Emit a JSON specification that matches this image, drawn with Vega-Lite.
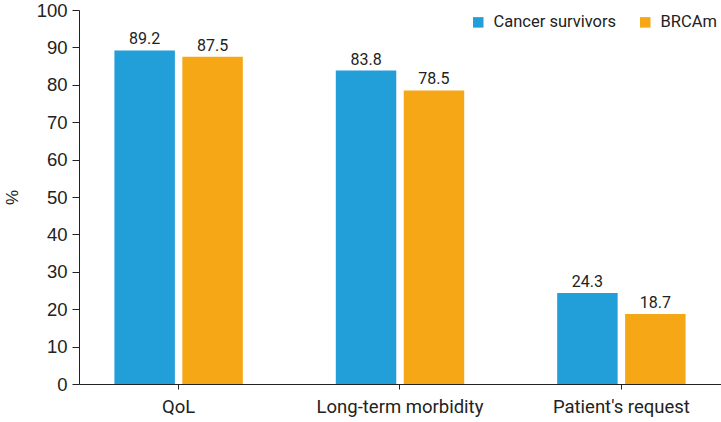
{
  "$schema": "https://vega.github.io/schema/vega-lite/v6.json",
  "width": 642,
  "height": 374,
  "autosize": "none",
  "padding": {"left": 79, "top": 10, "right": 0, "bottom": 38},
  "background": "white",
  "config": {"view": {"stroke": null}},
  "data": {
    "values": [
      {"category": "QoL", "group": "Cancer survivors", "value": 89.2},
      {"category": "QoL", "group": "BRCAm", "value": 87.5},
      {"category": "Long-term morbidity", "group": "Cancer survivors", "value": 83.8},
      {"category": "Long-term morbidity", "group": "BRCAm", "value": 78.5},
      {"category": "Patient's request", "group": "Cancer survivors", "value": 24.3},
      {"category": "Patient's request", "group": "BRCAm", "value": 18.7}
    ]
  },
  "encoding": {
    "x": {
      "field": "category", "type": "nominal", "sort": null,
      "scale": {"paddingInner": 0.42, "paddingOuter": 0.16},
      "axis": {
        "title": null, "labelAngle": 0, "domainColor": "#222", "tickColor": "#222",
        "tickSize": 5, "labelFont": "Roboto", "labelFontSize": 18.5, "labelColor": "#222",
        "labelPadding": 8, "grid": false
      }
    },
    "xOffset": {
      "field": "group", "type": "nominal", "sort": ["Cancer survivors", "BRCAm"],
      "scale": {"paddingInner": 0.11}
    },
    "y": {
      "field": "value", "type": "quantitative",
      "scale": {"domain": [0, 100]},
      "axis": {
        "title": "%", "titleFont": "Liberation Sans", "titleFontSize": 17, "titleFontWeight": "normal",
        "titleColor": "#222", "titlePadding": 15,
        "values": [0,10,20,30,40,50,60,70,80,90,100], "labelOverlap": false,
        "labelFont": "Liberation Sans", "labelFontSize": 18.5, "labelColor": "#222",
        "domainColor": "#222", "tickColor": "#222", "tickSize": 7, "labelPadding": 5, "grid": false
      }
    }
  },
  "layer": [
    {
      "mark": {"type": "bar"},
      "encoding": {
        "color": {
          "field": "group", "type": "nominal", "sort": ["Cancer survivors", "BRCAm"],
          "scale": {"domain": ["Cancer survivors", "BRCAm"], "range": ["#229ED9", "#F5A716"]},
          "legend": {
            "title": null, "orient": "top-right", "direction": "horizontal", "offset": 4,
            "symbolType": "square", "symbolSize": 110, "symbolStrokeWidth": 0,
            "labelFont": "Roboto", "labelFontSize": 16.5, "labelColor": "#222",
            "columnPadding": 20, "labelOffset": 7
          }
        }
      }
    },
    {
      "mark": {"type": "text", "dy": -3, "baseline": "bottom", "font": "Roboto", "fontSize": 16, "color": "#222"},
      "encoding": {
        "text": {"field": "value", "type": "quantitative", "format": ".1f"}
      }
    }
  ]
}
